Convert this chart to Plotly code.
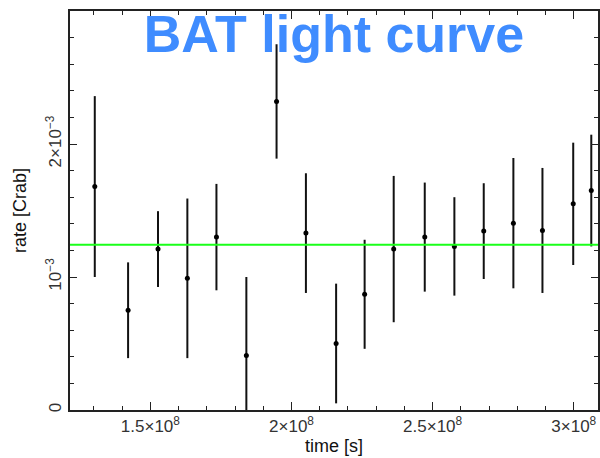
import plotly.graph_objects as go

# BAT light curve data (time in s, rate in Crab units)
time_s = [1.303e8, 1.421e8, 1.527e8, 1.631e8, 1.734e8, 1.840e8, 1.947e8, 2.051e8,
          2.158e8, 2.259e8, 2.362e8, 2.472e8, 2.577e8, 2.681e8, 2.786e8, 2.889e8,
          2.998e8, 3.062e8]
rate = [1.68e-3, 0.75e-3, 1.21e-3, 0.99e-3, 1.30e-3, 0.41e-3, 2.32e-3, 1.33e-3,
        0.50e-3, 0.87e-3, 1.21e-3, 1.30e-3, 1.23e-3, 1.345e-3, 1.405e-3, 1.35e-3,
        1.55e-3, 1.65e-3]
rate_err = [0.68e-3, 0.36e-3, 0.285e-3, 0.60e-3, 0.40e-3, 0.59e-3, 0.43e-3, 0.45e-3,
            0.45e-3, 0.41e-3, 0.55e-3, 0.41e-3, 0.37e-3, 0.36e-3, 0.49e-3, 0.47e-3,
            0.46e-3, 0.42e-3]
mean_rate = 1.243e-3

x_tickvals = [1.5e8, 2.0e8, 2.5e8, 3.0e8]
x_ticktext = ["1.5×10<sup>8</sup>", "2×10<sup>8</sup>", "2.5×10<sup>8</sup>", "3×10<sup>8</sup>"]
y_tickvals = [0, 1e-3, 2e-3]
y_ticktext = ["0", "10<sup>−3</sup>", "2×10<sup>−3</sup>"]

FONT = "Liberation Sans, Arial, Helvetica, sans-serif"
AX = "#222222"

fig = go.Figure()
fig.add_trace(go.Scatter(
    x=time_s, y=rate, mode="markers",
    marker=dict(size=5, color="black"),
    error_y=dict(type="data", array=rate_err, visible=True, width=0,
                 thickness=2, color="#111111"),
    showlegend=False, cliponaxis=True,
))
fig.add_hline(y=mean_rate, line=dict(color="#1aff1a", width=2))

axis_common = dict(
    showgrid=False, zeroline=False, showline=True, linecolor=AX, linewidth=1.5,
    ticks="inside", tickcolor=AX, tickwidth=1.2, mirror="allticks",
    tickfont=dict(family=FONT, size=17, color="#333333"),
)
fig.update_xaxes(
    **axis_common, range=[1.2152e8, 3.0858e8],
    tickmode="array", tickvals=x_tickvals, ticktext=x_ticktext, ticklen=8,
    minor=dict(dtick=1e7, tick0=0, ticklen=4, ticks="inside", tickcolor=AX, tickwidth=1.2),
    title=dict(text="time [s]", font=dict(family=FONT, size=18, color="#111111"), standoff=2),
)
fig.update_yaxes(
    **axis_common, range=[0, 3e-3],
    tickmode="array", tickvals=y_tickvals, ticktext=y_ticktext, ticklen=7, tickangle=-90,
    ticklabelstandoff=0,
    minor=dict(dtick=0.2e-3, tick0=0, ticklen=4, ticks="inside", tickcolor=AX, tickwidth=1.2),
    title=dict(text="rate [Crab]", font=dict(family=FONT, size=18, color="#111111"), standoff=12),
)
fig.update_layout(
    width=600, height=458,
    margin=dict(l=70, r=0, t=11, b=48),
    paper_bgcolor="white", plot_bgcolor="white",
    title=dict(text="<b>BAT light curve</b>", x=0.5, xref="paper", xanchor="center",
               y=1 - 34 / 458, yref="container", yanchor="middle",
               font=dict(family=FONT, size=52, color="#3f8cff")),
)
fig.write_html("out.html")
